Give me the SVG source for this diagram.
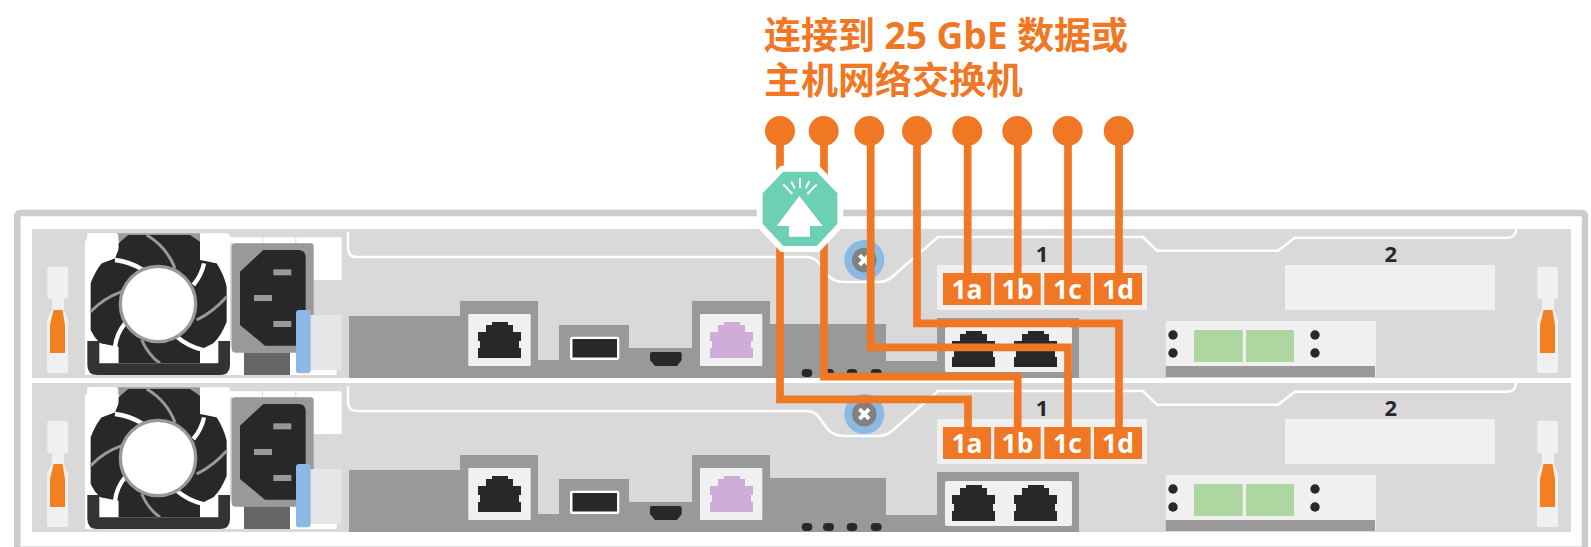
<svg xmlns="http://www.w3.org/2000/svg" xmlns:xlink="http://www.w3.org/1999/xlink" width="1591" height="547" viewBox="0 0 1591 547">
<style>
.title{font:700 37px "Open Sans","Noto Sans CJK SC",sans-serif;fill:#f07723}
.port{font:700 26.500px "Open Sans","Noto Sans",sans-serif;fill:#fff;text-anchor:middle}
.num{font:700 22px "Open Sans","Noto Sans",sans-serif;fill:#282828;text-anchor:middle}
.panel{fill:#d9d9d9}.gray{fill:#999}.light{fill:#f0f0f0}.dark{fill:#282828}.orange{fill:#f07723}.blue{fill:#8bb9e3}
.wire{fill:none;stroke:#f07723;stroke-width:7.700;stroke-linejoin:miter}
.edge{fill:none;stroke:#fff;stroke-width:2.500}
</style>
<defs>
<path id="rj" d="M14 0H30V3H35V10H43V19H41V26H43V36H0V26H2V19H0V10H8V3H14Z"/>
<g id="latch">
<rect class="light" x="47.300" y="266.700" width="20.700" height="32.300" rx="2"/>
<path class="light" d="M52 299H64V310L68 320V371Q68 373 66 373H49Q47 373 47 371V320L52 310Z"/>
<path fill="#f28021" d="M53.500 310H62.500L65 325V353H50V325Z"/>
</g>
<g id="psu" transform="translate(0,200) scale(.33333)">
<path fill="#fff" d="M262 100H355V112H690V525H255V123L262 120Z"/>
<path fill="#d9d9d9" d="M965 240H1025V345H965Z"/>
<rect class="gray" x="350" y="100" width="255" height="25"/>
<path class="dark" d="M355 130L385 105H570L600 125V180L650 190Q672 225 680 260V365Q665 405 640 430L600 450V490H355V440L300 430Q282 412 272 390V250Q285 215 305 190L345 175Z"/>
<rect fill="#fff" x="262" y="100" width="93" height="50" rx="8"/>
<path fill="#fff" d="M600 100H682Q690 100 690 108V190H650L612 180L600 150Z"/>
<path fill="#fff" d="M262 120H355V150L345 175L305 190H262Z"/>
<path fill="#fff" d="M298 430L340 440H355V490H298ZM600 450H655V490H600Z"/>
<g fill="none" stroke="#999" stroke-width="9">
<path d="M440 105Q500 140 525 205M272 335Q310 295 365 275M680 290Q640 335 590 360M425 420Q445 465 480 490"/>
</g>
<g fill="none" stroke="#fff" stroke-width="13">
<path d="M345 180Q390 185 430 210M612 190Q605 225 580 255M375 370Q350 400 345 440M530 410Q565 440 610 450"/>
</g>
<circle cx="474" cy="312" r="113" fill="#fff" stroke="#999" stroke-width="10"/>
<path fill="#333" d="M262 423V495Q262 525 292 525H660Q690 525 690 495V423H655V490H298V423Z"/>
<path fill="#fff" d="M690 112H1025V240H941V130H690Z"/>
<rect x="786" y="112" width="3" height="18" fill="#d9d9d9"/><rect x="886" y="112" width="3" height="18" fill="#d9d9d9"/>
<rect fill="#fff" x="690" y="440" width="320" height="85"/>
<rect class="gray" x="695" y="130" width="246" height="328" rx="12"/>
<path class="dark" d="M790 150H895Q917 150 917 172V437H795L720 375V215Z"/>
<g class="gray"><rect x="820" y="208" width="54" height="18"/><rect x="762" y="285" width="54" height="18"/><rect x="820" y="363" width="54" height="18"/></g>
<rect fill="#666" x="732" y="458" width="138" height="67"/>
<rect fill="#e6e6e6" x="930" y="345" width="94" height="165"/>
<rect class="blue" x="888" y="330" width="44" height="190" rx="9"/>
</g>
<g id="mid">
<path class="gray" d="M349 316H460V301H538V360H559V325H629V348H692V301H770V324H886V361H937V318H1079V378H349Z"/>
<rect class="light" x="468.300" y="314" width="62.400" height="52" rx="1"/>
<use href="#rj" x="478" y="322" class="dark"/>
<rect x="570" y="336.700" width="49.300" height="23.300" rx="2" fill="#fff"/>
<rect class="dark" x="572.500" y="339" width="44.500" height="18.500"/>
<path class="dark" d="M652 352H680Q681.700 352 681.700 354V360L677 366H655L650 360V354Q650 352 652 352Z"/>
<rect class="light" x="700" y="314" width="62.300" height="52" rx="1"/>
<use href="#rj" x="710" y="322" fill="#d0acd8"/>
<rect class="dark" x="801.700" y="369" width="10.600" height="8" rx="4"/><rect class="dark" x="823" y="369" width="11" height="8" rx="4"/><rect class="dark" x="846.700" y="369" width="10.600" height="8" rx="4"/><rect class="dark" x="870.700" y="369" width="11" height="8" rx="4"/>
<rect class="light" x="945" y="327" width="127" height="45" rx="2"/>
<use href="#rj" x="952" y="331" class="dark"/><use href="#rj" x="1014" y="331" class="dark"/>
<path class="edge" d="M348 232V248Q348 257 357 257H805Q814 257 818 262L826 273Q832 282 845 282H878Q887 282 893 276L938 237H1143L1157 250.700H1278L1295 237.700H1507Q1516 237.700 1516 229"/>
<circle class="blue" cx="864.300" cy="260" r="20"/>
<circle cx="864.300" cy="260" r="12.300" fill="#808080"/>
<path d="M859.500 255.200L869.100 264.800M869.100 255.200L859.500 264.800" stroke="#fff" stroke-width="4"/>
<rect class="light" x="937" y="265" width="210" height="45"/>
<text class="num" x="1042" y="262">1</text>
<g class="orange"><rect x="943" y="273" width="48" height="32"/><rect x="994.300" y="273" width="46.400" height="32"/><rect x="1044.300" y="273" width="46.400" height="32"/><rect x="1094" y="273" width="48" height="32"/></g>
<g><text class="port" x="967" y="299">1a</text><text class="port" x="1017.500" y="299">1b</text><text class="port" x="1067.500" y="299">1c</text><text class="port" x="1118" y="299">1d</text></g>
<text class="num" x="1390.700" y="262">2</text>
<rect class="light" x="1285" y="265" width="210" height="45"/>
<rect class="light" x="1165.700" y="321" width="210.300" height="56"/>
<rect class="gray" x="1165.700" y="366" width="209.300" height="11"/>
<g fill="#aed6a0"><rect x="1194" y="330" width="48.700" height="32"/><rect x="1246" y="330" width="48" height="32"/></g>
<g class="dark"><circle cx="1173" cy="335" r="4.700"/><circle cx="1173" cy="353" r="4.700"/><circle cx="1315" cy="335" r="4.700"/><circle cx="1315" cy="353" r="4.700"/></g>
</g>
</defs>

<rect id="frame" x="17.300" y="213" width="1567.700" height="345" rx="3" fill="none" stroke="#ccc" stroke-width="6.500"/>
<rect x="20" y="546" width="1562" height="1" fill="#e0e0e0"/>

<g id="unit-top">
<rect class="panel" x="32" y="229" width="1539" height="149"/>
<use href="#latch"/><use href="#latch" x="1490"/>
<use href="#psu"/>
<use href="#mid"/>
</g>
<g id="unit-bottom" transform="translate(0,154)">
<rect class="panel" x="32" y="229" width="1539" height="149"/>
<use href="#latch"/><use href="#latch" x="1490"/>
<use href="#psu"/>
<use href="#mid"/>
</g>

<g id="connectors">
<path class="wire" d="M967.700 131V273M1017.700 131V273M1068 131V273M1119 131V273"/>
<path class="wire" d="M780 131V399.300H968V427"/>
<path class="wire" d="M824 131V376.700H1017.700V427"/>
<path class="wire" d="M870.700 131V347.300H1068V427"/>
<path class="wire" d="M917 131V323.300H1119V427"/>
</g>
<g id="terminals" class="orange">
<circle cx="780" cy="131" r="15"/><circle cx="823.700" cy="131" r="15"/><circle cx="869.300" cy="131" r="15"/><circle cx="917" cy="131" r="15"/><circle cx="967.300" cy="131" r="15"/><circle cx="1017.300" cy="131" r="15"/><circle cx="1067.700" cy="131" r="15"/><circle cx="1118.700" cy="131" r="15"/>
</g>
<g id="badge" transform="translate(730,100) scale(.33333)">
<path d="M160 215H260L322 280V372L260 438H160L98 372V280Z" fill="#6dcfb3" stroke="#fff" stroke-width="36" paint-order="stroke"/>
<path d="M208 288L278 378H240V410H177V378H140Z" fill="#fff"/>
<path d="M210 235V265M184 245L194 265M160 253L187 282M238 243L227 265M260 253L232 282" stroke="#fff" stroke-width="6" fill="none"/>
</g>
<g id="heading">
<text class="title" x="764" y="49">连接到 25 GbE 数据或</text>
<text class="title" x="764" y="94">主机网络交换机</text>
</g>
</svg>
